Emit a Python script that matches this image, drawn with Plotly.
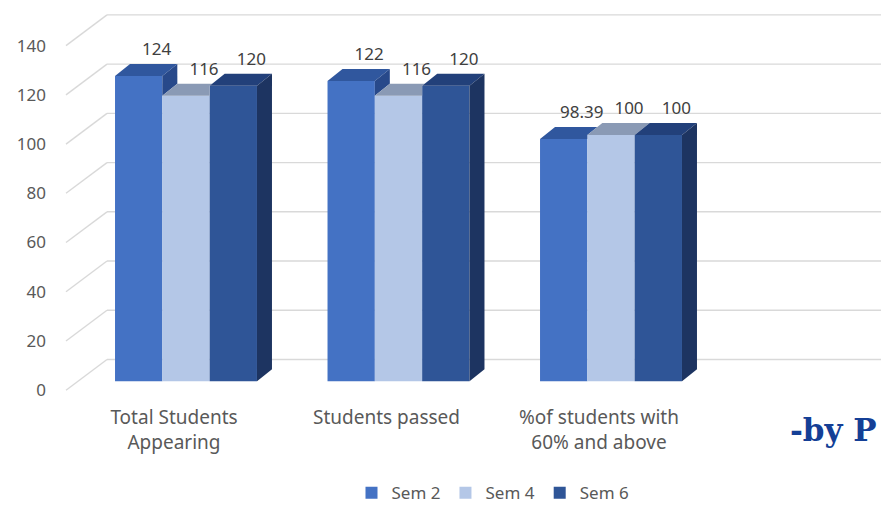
import plotly.graph_objects as go

# ---------------- data ----------------
categories = ["Total Students<br>Appearing", "Students passed", "%of students with<br>60% and above"]
series_names = ["Sem 2", "Sem 4", "Sem 6"]
sem2 = [124, 122, 98.39]
sem4 = [116, 116, 100]
sem6 = [120, 120, 100]
y_ticks = [0, 20, 40, 60, 80, 100, 120, 140]

series_values = [sem2, sem4, sem6]

# ---------------- styles ----------------
front_colors = ["#4472C4", "#B4C7E7", "#2F5597"]
top_colors = ["#30579E", "#8A9AB5", "#22407A"]
side_colors = ["#28498A", "#7A8AA5", "#1D3461"]
grid_color = "#D9D9D9"
text_gray = "#595959"
label_gray = "#404040"

# ---------------- geometry (pixels) ----------------
W = 881
H = 525               # a little taller than the 505 window so the legend box never squeezes the plot
L, R = 58, 0
PX_X = 212.5          # px per category
X0_PX = 186           # px of first category centre
PX_Y = 2.46           # px per value unit
Y0_PX = 381           # px of value 0 on the bar front plane
y_range = [-6, 150]
x_range = [(L - X0_PX) / PX_X, (W - R - X0_PX) / PX_X]
T = Y0_PX - y_range[1] * PX_Y
B = H - (Y0_PX - y_range[0] * PX_Y)
plot_bottom = H - B
plot_h = H - T - B

bargap = 0.332
n_series = len(series_values)
bw = (1 - bargap) / n_series

depth_dx = 15 / PX_X      # bar depth offset (x units)
depth_dy = 12 / PX_Y      # bar depth offset (y units)
back_dy = 21.7 / PX_Y     # back wall offset
back_x0 = (107 - X0_PX) / PX_X
front_dy = -9 / PX_Y      # front plane offset
front_x0 = (66 - X0_PX) / PX_X
cat_label_shift = -12 / PX_X
lab_dx = 18 / PX_X
lab_dy = 13 / PX_Y

fig = go.Figure()

xs = list(range(len(categories)))
for s, (name, vals) in enumerate(zip(series_names, series_values)):
    fig.add_trace(go.Bar(
        x=xs, y=vals, name=name,
        marker=dict(color=front_colors[s], line=dict(width=0)),
        hoverinfo="y+name",
    ))

# 3D faces computed from the values
for i in xs:
    for s in range(n_series):
        v = series_values[s][i]
        vn = series_values[s + 1][i] if s + 1 < n_series else 0
        c = i + (s - (n_series - 1) / 2) * bw
        x0, x1 = c - bw / 2, c + bw / 2
        dx, dy = depth_dx, depth_dy
        # top face
        if vn > v:
            cl = min(vn, v + dy)
            px = [x0, x1, x1, x1 + dx * (v + dy - cl) / dy, x0 + dx, x0]
            py = [v, v, cl, v + dy, v + dy, v]
        else:
            px = [x0, x1, x1 + dx, x0 + dx, x0]
            py = [v, v, v + dy, v + dy, v]
        fig.add_trace(go.Scatter(x=px, y=py, mode="lines", fill="toself",
                                 fillcolor=top_colors[s], line=dict(width=0, color=top_colors[s]),
                                 showlegend=False, hoverinfo="skip"))
        # right side face (visible part)
        if v > vn:
            px = [x1, x1, x1 + dx, x1 + dx, x1]
            py = [vn, v, v + dy, vn + dy, vn]
            fig.add_trace(go.Scatter(x=px, y=py, mode="lines", fill="toself",
                                     fillcolor=side_colors[s], line=dict(width=0, color=side_colors[s]),
                                     showlegend=False, hoverinfo="skip"))

# data labels
for s in range(n_series):
    vals = series_values[s]
    lx = [i + (s - (n_series - 1) / 2) * bw + lab_dx for i in xs]
    ly = [v + depth_dy + lab_dy for v in vals]
    fig.add_trace(go.Scatter(
        x=lx, y=ly, mode="text", text=[f"{v:g}" for v in vals],
        textposition="middle center",
        textfont=dict(family="Noto Sans", size=17, color=label_gray),
        showlegend=False, hoverinfo="skip"))

# gridlines: back wall + left diagonals
shapes = []
for t in y_ticks:
    shapes.append(dict(type="line", xref="x", yref="y", layer="below",
                       x0=back_x0, x1=x_range[1], y0=t + back_dy, y1=t + back_dy,
                       line=dict(color=grid_color, width=1.4)))
    shapes.append(dict(type="line", xref="x", yref="y", layer="below",
                       x0=front_x0, x1=back_x0, y0=t + front_dy, y1=t + back_dy,
                       line=dict(color=grid_color, width=1.4)))

fig.update_layout(
    width=W, height=H,
    margin=dict(l=L, r=R, t=T, b=B, pad=0),
    plot_bgcolor="white", paper_bgcolor="white",
    barmode="group", bargap=bargap, bargroupgap=0,
    shapes=shapes,
    font=dict(family="Noto Sans", color=text_gray),
    legend=dict(orientation="h", x=(493 - L) / (W - L - R), xanchor="center",
                y=(plot_bottom - 493) / plot_h, yanchor="middle",
                font=dict(size=17, color=text_gray), itemwidth=30,
                bgcolor="rgba(0,0,0,0)"),
    annotations=[dict(text="<b>-by P</b>", xref="paper", yref="paper",
                      x=(788 - L) / (W - L - R), xanchor="left",
                      y=(plot_bottom - 430) / plot_h, yanchor="middle",
                      showarrow=False,
                      font=dict(family="DejaVu Serif", size=31, color="#143F96"))],
)
fig.update_xaxes(range=x_range, tickvals=[i + cat_label_shift for i in xs], ticktext=categories,
                 showgrid=False, zeroline=False, showline=False, ticks="", automargin=False,
                 tickfont=dict(size=19, color=text_gray), ticklabelstandoff=8, fixedrange=True)
fig.update_yaxes(range=y_range, tickvals=[t + front_dy for t in y_ticks], ticktext=[str(t) for t in y_ticks],
                 showgrid=False, zeroline=False, showline=False, ticks="", automargin=False,
                 tickfont=dict(size=17, color=text_gray), ticklabelstandoff=11, fixedrange=True)

fig.write_html(
    "out.html",
    config={"displayModeBar": False},
    post_script=("document.documentElement.style.margin='0';"
                 "document.documentElement.style.overflow='hidden';"
                 "document.body.style.margin='0';"
                 "document.body.style.overflow='hidden';"
                 "var d=document.getElementById('{plot_id}');"
                 "d.style.position='fixed';d.style.left='0px';d.style.top='0px';"),
)
